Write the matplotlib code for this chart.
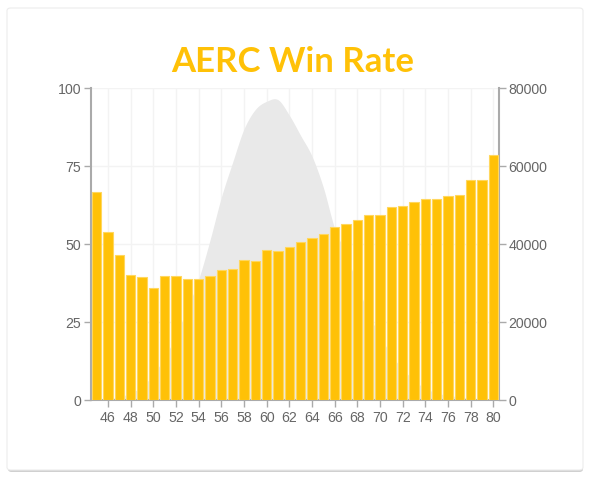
import numpy as np
import matplotlib
matplotlib.use("Agg")
import matplotlib.pyplot as plt
from matplotlib.patches import FancyBboxPatch

# ---- data ----
ages = list(range(45, 81))
win_rate = [66.8, 54.0, 46.5, 40.2, 39.4, 35.9, 39.8, 39.8, 38.8, 38.8,
            39.7, 41.8, 42.1, 44.9, 44.6, 48.1, 47.8, 49.0, 50.7, 51.8,
            53.3, 55.6, 56.3, 57.8, 59.3, 59.3, 62.0, 62.3, 63.5, 64.4,
            64.5, 65.5, 65.7, 70.5, 70.5, 78.6]
games = [100, 300, 800, 1800, 3500, 6500, 11000, 16500, 23500, 31000,
         41000, 52000, 61000, 69500, 74500, 76600, 77000,
         73000, 67800, 62500, 54500, 44000, 37500, 29500, 22000, 16500,
         11500, 8000, 5000, 3000, 1800, 1200, 800, 500, 300, 100]
x_ticks = list(range(46, 81, 2))
left_ticks = [0, 25, 50, 75, 100]
right_ticks = [0, 20000, 40000, 60000, 80000]
title = "AERC Win Rate"

AMBER = "#FFC107"
GRAY_TXT = "#666666"
AXIS_C = "#aaaaaa"
GRID_C = "#f3f3f3"

plt.rcParams["font.family"] = ["Liberation Sans", "DejaVu Sans"]

W, H = 593, 481
fig = plt.figure(figsize=(W / 100, H / 100), dpi=100)
fig.patch.set_facecolor("white")

# card with shadow
shadow = FancyBboxPatch((8 / W, 1 - 473 / H), 575 / W, 462 / H,
                        boxstyle="round,pad=0,rounding_size=0.006",
                        transform=fig.transFigure, facecolor="#d0d0d0",
                        edgecolor="none", zorder=-3)
card = FancyBboxPatch((7 / W, 1 - 471 / H), 576 / W, 462 / H,
                      boxstyle="round,pad=0,rounding_size=0.006",
                      transform=fig.transFigure, facecolor="white",
                      edgecolor="#ececec", linewidth=0.8, zorder=-2)
fig.patches.extend([shadow, card])

left, right, bottom, top = 91 / W, 499 / W, 1 - 401 / H, 1 - 89 / H
axl = fig.add_axes([left, bottom, right - left, top - bottom])
axr = axl.twinx()
axr.set_zorder(1)
axl.set_zorder(2)
axl.patch.set_visible(False)
axr.patch.set_visible(False)

# smooth area (Catmull-Rom rendering through the data points)
xs = np.array(ages, dtype=float)
ys = np.array(games, dtype=float)
px = np.concatenate([[xs[0] - 1], xs, [xs[-1] + 1]])
py = np.concatenate([[ys[0]], ys, [ys[-1]]])
sx, sy = [], []
for i in range(1, len(px) - 2):
    t = np.linspace(0, 1, 20, endpoint=False)
    p0, p1, p2, p3 = py[i - 1], py[i], py[i + 1], py[i + 2]
    yy = 0.5 * ((2 * p1) + (-p0 + p2) * t + (2 * p0 - 5 * p1 + 4 * p2 - p3) * t ** 2
                + (-p0 + 3 * p1 - 3 * p2 + p3) * t ** 3)
    sx.append(px[i] + t)
    sy.append(yy)
sx = np.concatenate(sx + [[xs[-1]]])
sy = np.clip(np.concatenate(sy + [[ys[-1]]]), 0, None)
axr.fill_between(sx, 0, sy, color="#e9e9e9", linewidth=0, zorder=1)

axl.bar(ages, win_rate, width=0.8, color=AMBER, edgecolor="#ffd75e",
        linewidth=0.8, zorder=3)

axl.set_xlim(44.5, 80.5)
axl.set_ylim(0, 100)
axr.set_ylim(0, 80000)
axr.set_xlim(44.5, 80.5)

axl.set_xticks(x_ticks)
axl.set_xticklabels([str(v) for v in x_ticks])
axl.set_yticks(left_ticks)
axl.set_yticklabels([str(v) for v in left_ticks])
axr.set_yticks(right_ticks)
axr.set_yticklabels([str(v) for v in right_ticks])

for ax in (axl, axr):
    ax.tick_params(colors=AXIS_C, labelcolor=GRAY_TXT, labelsize=10.2,
                   length=5, width=1)
    for s in ax.spines.values():
        s.set_visible(False)
axl.tick_params(axis="x", pad=2)
axl.tick_params(axis="y", pad=2)
axr.tick_params(axis="y", pad=2)

axl.spines["left"].set_visible(True)
axl.spines["left"].set_color(AXIS_C)
axl.spines["left"].set_linewidth(1.5)
axl.spines["bottom"].set_visible(True)
axl.spines["bottom"].set_color(AXIS_C)
axl.spines["bottom"].set_linewidth(1.5)
axr.spines["right"].set_visible(True)
axr.spines["right"].set_color(AXIS_C)
axr.spines["right"].set_linewidth(1.5)

# grid on the back axis
for v in x_ticks:
    axr.axvline(v, color=GRID_C, linewidth=1, zorder=0)
for v in right_ticks[1:]:
    axr.axhline(v, color=GRID_C, linewidth=1, zorder=0)

fig.text(0.494, 1 - 62 / H, title, ha="center", va="center",
         fontsize=25, fontweight="bold", color=AMBER, family="Lato")

fig.savefig("out.png", dpi=100, facecolor="white")
